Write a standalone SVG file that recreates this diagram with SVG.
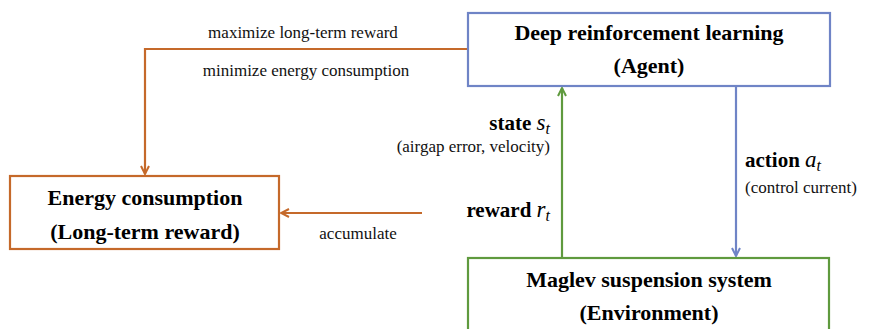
<svg xmlns="http://www.w3.org/2000/svg" width="894" height="329" viewBox="0 0 894 329" font-family="Times New Roman, Liberation Serif, serif">
  <defs>
    <style>
      text { font-family: 'Times New Roman', 'Liberation Serif', serif; }
      .nt { font-weight: bold; font-size: 22px; fill: #000; }
      .lb { font-size: 17px; fill: #111; }
      .bl { font-weight: bold; font-size: 21px; fill: #000; }
      .mi { font-style: italic; font-weight: normal; font-size: 23px; }
      .sb { font-style: italic; font-weight: normal; font-size: 16px; }
      .box { fill: #fff; stroke-width: 2.2; }
      .line { fill: none; stroke-width: 2.2; }
    </style>
    <marker id="arrOrange" viewBox="0 0 10 10" refX="9" refY="5" markerWidth="10" markerHeight="10" markerUnits="userSpaceOnUse" orient="auto">
      <path d="M1,1 L9,5 L1,9" fill="none" stroke="#C5692A" stroke-width="2"/>
    </marker>
    <marker id="arrBlue" viewBox="0 0 10 10" refX="9" refY="5" markerWidth="10" markerHeight="10" markerUnits="userSpaceOnUse" orient="auto">
      <path d="M1,1 L9,5 L1,9" fill="none" stroke="#6F84C6" stroke-width="2"/>
    </marker>
    <marker id="arrGreen" viewBox="0 0 10 10" refX="9" refY="5" markerWidth="10" markerHeight="10" markerUnits="userSpaceOnUse" orient="auto">
      <path d="M1,1 L9,5 L1,9" fill="none" stroke="#5F9A3E" stroke-width="2"/>
    </marker>
  </defs>
  <rect width="894" height="329" fill="#fff"/>

  <g id="connectors">
    <!-- objective feedback from agent to long-term reward -->
    <path class="line" d="M468,49 L145,49 L145,174" stroke="#C5692A" marker-end="url(#arrOrange)"/>
    <!-- accumulation of instantaneous reward -->
    <path class="line" d="M422,213 L281,213" stroke="#C5692A" marker-end="url(#arrOrange)"/>
    <!-- state / reward up to agent -->
    <path class="line" d="M562,258 L562,88" stroke="#5F9A3E" marker-end="url(#arrGreen)"/>
    <!-- action down to environment -->
    <path class="line" d="M736,86 L736,256" stroke="#6F84C6" marker-end="url(#arrBlue)"/>
  </g>

  <g id="agent">
    <rect class="box" x="468" y="13" width="362" height="73" stroke="#6F84C6"/>
    <text class="nt" x="649" y="40" text-anchor="middle">Deep reinforcement learning</text>
    <text class="nt" x="649" y="73" text-anchor="middle">(Agent)</text>
  </g>

  <g id="energy">
    <rect class="box" x="10" y="176" width="269" height="73" stroke="#C5692A"/>
    <text class="nt" x="145" y="205" text-anchor="middle">Energy consumption</text>
    <text class="nt" x="145" y="239" text-anchor="middle">(Long-term reward)</text>
  </g>

  <g id="environment">
    <rect class="box" x="468" y="258" width="361" height="80" stroke="#5F9A3E"/>
    <text class="nt" x="649" y="287" text-anchor="middle">Maglev suspension system</text>
    <text class="nt" x="649" y="320" text-anchor="middle">(Environment)</text>
  </g>

  <g id="labels">
    <text class="lb" x="303" y="38" text-anchor="middle">maximize long-term reward</text>
    <text class="lb" x="306" y="76" text-anchor="middle">minimize energy consumption</text>
    <text class="lb" x="358" y="239" text-anchor="middle">accumulate</text>

    <text class="bl" x="550" y="130" text-anchor="end">state <tspan class="mi">s</tspan><tspan class="sb" dy="4">t</tspan></text>
    <text class="lb" x="550" y="152" text-anchor="end">(airgap error, velocity)</text>
    <text class="bl" x="550" y="217" text-anchor="end">reward <tspan class="mi">r</tspan><tspan class="sb" dy="4">t</tspan></text>

    <text class="bl" x="745" y="167">action <tspan class="mi">a</tspan><tspan class="sb" dy="4">t</tspan></text>
    <text class="lb" x="745" y="193">(control current)</text>
  </g>
</svg>
